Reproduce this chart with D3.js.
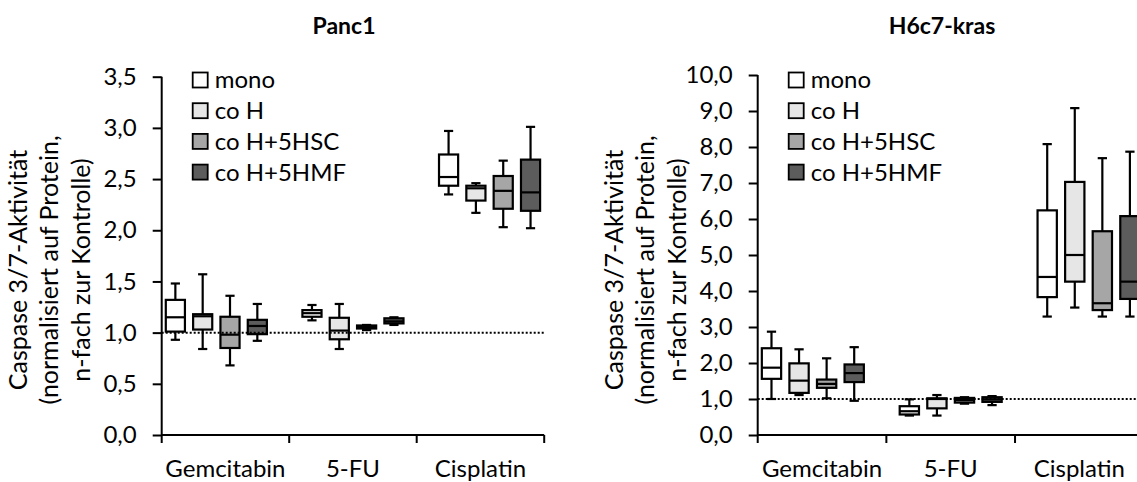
<!DOCTYPE html>
<html><head><meta charset="utf-8">
<script src="https://cdn.jsdelivr.net/npm/d3@7"></script>
<style>
html,body{margin:0;padding:0;background:#fff;}
svg{display:block;font-family:Lato,"Open Sans",sans-serif;}
</style></head><body>
<svg id="c" width="1137" height="482"></svg>
<script>
// ---------- data ----------
const categories = ["Gemcitabin", "5-FU", "Cisplatin"];
const seriesNames = ["mono", "co H", "co H+5HSC", "co H+5HMF"];
const seriesColors = ["#ffffff", "#e6e6e6", "#a6a6a6", "#5c5c5c"];
// each entry: [whisker low, Q1, median, Q3, whisker high] for Gemcitabin, 5-FU, Cisplatin
const panc1Mono = [[0.93, 1.01, 1.15, 1.32, 1.48], [1.12, 1.155, 1.19, 1.22, 1.27], [2.35, 2.435, 2.52, 2.74, 2.97]];
const panc1CoH  = [[0.84, 1.03, 1.16, 1.18, 1.57], [0.84, 0.935, 1.02, 1.145, 1.28], [2.17, 2.29, 2.41, 2.435, 2.46]];
const panc1HSC  = [[0.68, 0.85, 0.98, 1.155, 1.36], [1.025, 1.04, 1.055, 1.07, 1.075], [2.03, 2.21, 2.385, 2.53, 2.68]];
const panc1HMF  = [[0.92, 0.985, 1.065, 1.125, 1.28], [1.075, 1.09, 1.11, 1.14, 1.15], [2.02, 2.19, 2.37, 2.69, 3.01]];
const h6Mono = [[1.0, 1.56, 1.87, 2.41, 2.87], [0.54, 0.57, 0.66, 0.80, 0.99], [3.29, 3.83, 4.39, 6.24, 8.08]];
const h6CoH  = [[1.11, 1.17, 1.51, 1.99, 2.38], [0.54, 0.74, 1.0, 1.02, 1.11], [3.54, 4.26, 5.0, 7.03, 9.08]];
const h6HSC  = [[1.02, 1.31, 1.42, 1.54, 2.13], [0.87, 0.90, 0.97, 1.03, 1.05], [3.29, 3.47, 3.66, 5.66, 7.69]];
const h6HMF  = [[0.95, 1.47, 1.72, 1.96, 2.44], [0.83, 0.92, 0.99, 1.05, 1.08], [3.29, 3.78, 4.26, 6.08, 7.87]];
const panc1Ticks = [0, 0.5, 1.0, 1.5, 2.0, 2.5, 3.0, 3.5];
const h6Ticks = [0, 1, 2, 3, 4, 5, 6, 7, 8, 9, 10];
const referenceLevel = 1.0;
const titleLines = ["Caspase 3/7-Aktivität", "(normalisiert auf Protein,", "n-fach zur Kontrolle)"];

// ---------- layout ----------
const charts = [
  {title: "Panc1", data: [panc1Mono, panc1CoH, panc1HSC, panc1HMF], ticks: panc1Ticks, yMax: 3.5,
   axisX: 161.7, width: 382.5, yTop: 76.7, titleX: 344},
  {title: "H6c7-kras", data: [h6Mono, h6CoH, h6HSC, h6HMF], ticks: h6Ticks, yMax: 10,
   axisX: 757.7, width: 386, yTop: 75, titleX: 942}
];
const yBottom = 435;
const fmt = v => d3.format(".1f")(v).replace(".", ",");
const svg = d3.select("#c");

charts.forEach(ch => {
  const g = svg.append("g");
  const x0 = ch.axisX, x1 = ch.axisX + ch.width;
  const y = d3.scaleLinear().domain([0, ch.yMax]).range([yBottom, ch.yTop]);
  const xCat = d3.scaleBand().domain(categories).range([x0, x1]);
  // slot axis: 4 series + 1 gap per category, 14 slots
  const xSlot = d3.scaleBand().domain(d3.range(14)).range([x0, x1]).paddingInner(0.3).paddingOuter(0.15);
  const bw = xSlot.bandwidth();
  const capW = bw * 0.48;

  // boxes
  ch.data.forEach((ser, si) => {
    ser.forEach((d, ci) => {
      const slot = ci * 5 + si;
      const cx = xSlot(slot) + bw / 2;
      const [wl, q1, md, q3, wh] = d;
      const bg = g.append("g").attr("stroke", "#000").attr("stroke-width", 2.2);
      bg.append("line").attr("x1", cx).attr("x2", cx).attr("y1", y(wh)).attr("y2", y(q3));
      bg.append("line").attr("x1", cx).attr("x2", cx).attr("y1", y(q1)).attr("y2", y(wl));
      bg.append("line").attr("x1", cx - capW / 2).attr("x2", cx + capW / 2).attr("y1", y(wh)).attr("y2", y(wh));
      bg.append("line").attr("x1", cx - capW / 2).attr("x2", cx + capW / 2).attr("y1", y(wl)).attr("y2", y(wl));
      bg.append("rect").attr("x", xSlot(slot)).attr("width", bw)
        .attr("y", y(q3)).attr("height", Math.max(0.5, y(q1) - y(q3)))
        .attr("fill", seriesColors[si]);
      bg.append("line").attr("x1", xSlot(slot)).attr("x2", xSlot(slot) + bw).attr("y1", y(md)).attr("y2", y(md));
    });
  });

  // reference dotted line
  g.append("line").attr("x1", x0).attr("x2", x1).attr("y1", y(referenceLevel)).attr("y2", y(referenceLevel))
    .attr("stroke", "#000").attr("stroke-width", 2).attr("stroke-dasharray", "2,2");

  // y axis
  const yAxis = g.append("g").attr("transform", `translate(${x0},0)`)
    .call(d3.axisLeft(y).tickValues(ch.ticks).tickFormat(fmt).tickSize(9).tickPadding(16));
  yAxis.select(".domain").attr("d", `M0,${ch.yTop}V${yBottom}`).attr("stroke-width", 2);
  yAxis.selectAll(".tick line").attr("stroke-width", 2);
  yAxis.selectAll(".tick text").attr("font-size", 24).attr("fill", "#000").attr("font-family", "Lato");

  // x axis
  const xg = g.append("g");
  xg.append("line").attr("x1", x0).attr("x2", x1).attr("y1", yBottom).attr("y2", yBottom)
    .attr("stroke", "#000").attr("stroke-width", 2);
  const bounds = categories.map(c => xCat(c)).concat([x1]);
  xg.selectAll("line.tk").data(bounds).enter().append("line").attr("class", "tk")
    .attr("x1", d => d).attr("x2", d => d).attr("y1", yBottom).attr("y2", yBottom + 8)
    .attr("stroke", "#000").attr("stroke-width", 2);
  xg.selectAll("text").data(categories).enter().append("text")
    .attr("x", d => xCat(d) + xCat.bandwidth() / 2).attr("y", 477)
    .attr("text-anchor", "middle").attr("font-size", 24).attr("fill", "#000").text(d => d);

  // y title
  const tg = g.append("g");
  const offs = [-135, -103.5, -72];
  titleLines.forEach((t, i) => {
    tg.append("text").attr("transform", `translate(${x0 + offs[i]},270) rotate(-90)`)
      .attr("text-anchor", "middle").attr("font-size", 25).attr("fill", "#000").text(t);
  });

  // chart title
  g.append("text").attr("x", ch.titleX).attr("y", 34).attr("text-anchor", "middle")
    .attr("font-size", 23).attr("font-weight", "bold").attr("fill", "#000").text(ch.title);

  // legend
  const lg = g.append("g");
  seriesNames.forEach((s, i) => {
    const cy = 80 + i * 30.7;
    lg.append("rect").attr("x", x0 + 31).attr("y", cy - 7.5).attr("width", 15).attr("height", 15)
      .attr("fill", seriesColors[i]).attr("stroke", "#000").attr("stroke-width", 1.8);
    lg.append("text").attr("x", x0 + 53).attr("y", cy).attr("dy", "0.35em")
      .attr("font-size", 24).attr("fill", "#000").text(s);
  });
});
</script>
</body></html>
